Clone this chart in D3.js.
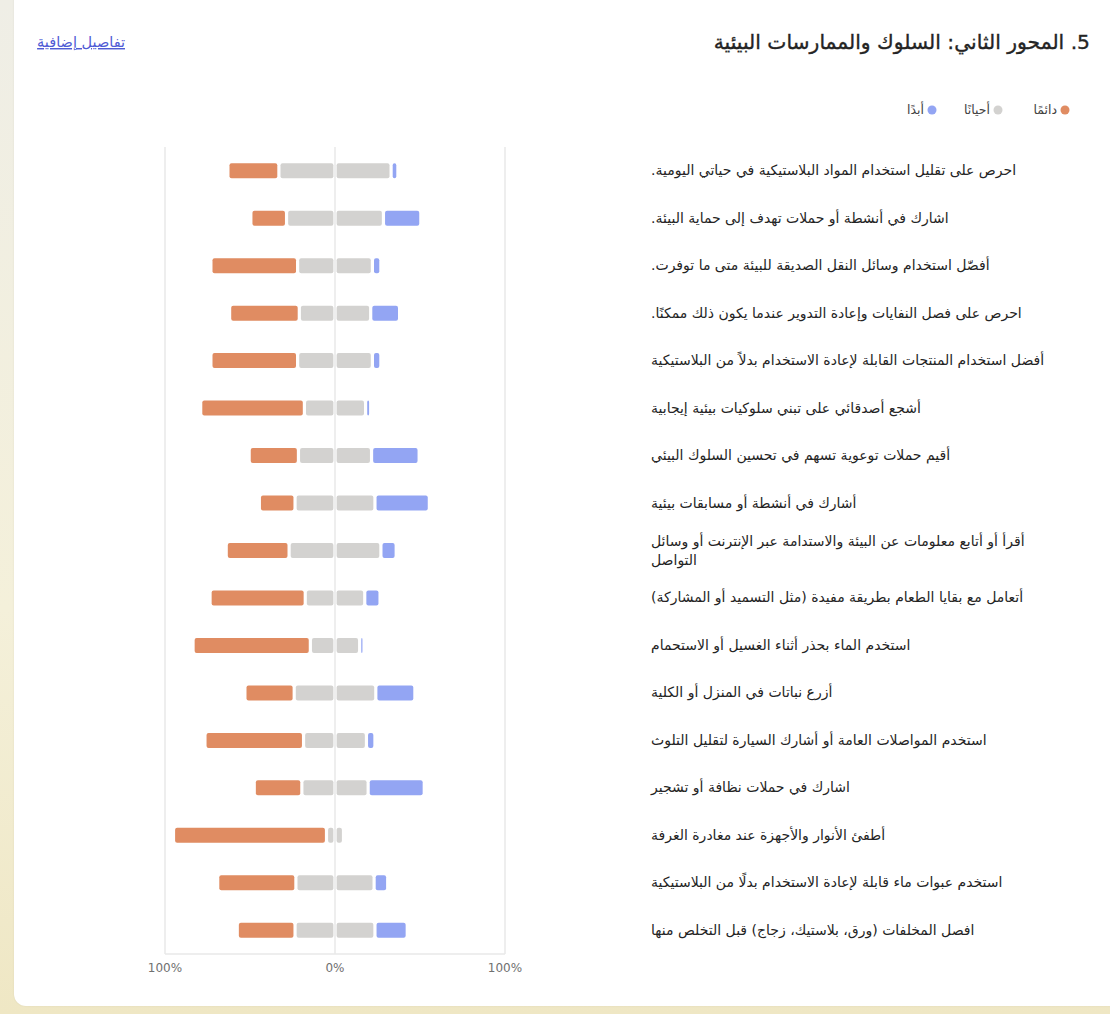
<!DOCTYPE html>
<html lang="ar">
<head>
<meta charset="utf-8">
<script src="https://cdn.jsdelivr.net/npm/d3@7"></script>
<style>
  html, body { margin: 0; padding: 0; }
  body {
    width: 1110px; height: 1014px; overflow: hidden; position: relative;
    background: linear-gradient(180deg, #efeee6 0%, #f4f0da 60%, #efe7c4 100%);
    font-family: "Segoe UI", Tahoma, "DejaVu Sans", sans-serif;
  }
  #card {
    position: absolute; left: 14px; top: -20px; width: 1120px; height: 1026px;
    background: #fff; border-radius: 12px;
    box-shadow: 0 0 2px rgba(0,0,0,0.08);
  }
  #my_dataviz { position: absolute; left: 0; top: 0; }
</style>
</head>
<body>
<div id="card"></div>
<div id="my_dataviz"></div>
<script>
const W = 1110, H = 1014;

// questions (top to bottom)
const questions = [
  "احرص على تقليل استخدام المواد البلاستيكية في حياتي اليومية.",
  "اشارك في أنشطة أو حملات تهدف إلى حماية البيئة.",
  "أفضّل استخدام وسائل النقل الصديقة للبيئة متى ما توفرت.",
  "احرص على فصل النفايات وإعادة التدوير عندما يكون ذلك ممكنًا.",
  "أفضل استخدام المنتجات القابلة لإعادة الاستخدام بدلاً من البلاستيكية",
  "أشجع أصدقائي على تبني سلوكيات بيئية إيجابية",
  "أقيم حملات توعوية تسهم في تحسين السلوك البيئي",
  "أشارك في أنشطة أو مسابقات بيئية",
  "أقرأ أو أتابع معلومات عن البيئة والاستدامة عبر الإنترنت أو وسائل التواصل",
  "أتعامل مع بقايا الطعام بطريقة مفيدة (مثل التسميد أو المشاركة)",
  "استخدم الماء بحذر أثناء الغسيل أو الاستحمام",
  "أزرع نباتات في المنزل أو الكلية",
  "استخدم المواصلات العامة أو أشارك السيارة لتقليل التلوث",
  "اشارك في حملات نظافة أو تشجير",
  "أطفئ الأنوار والأجهزة عند مغادرة الغرفة",
  "استخدم عبوات ماء قابلة لإعادة الاستخدام بدلًا من البلاستيكية",
  "افصل المخلفات (ورق، بلاستيك، زجاج) قبل التخلص منها"
];

// percentages per answer
const always    = [30, 21, 51, 41, 51, 61, 29, 21, 37, 56, 69, 29, 58, 28, 90, 46, 34];
const sometimes = [66, 57, 44, 42, 44, 36, 43, 47, 54, 35, 29, 48, 37, 39, 10, 46, 47];
const never     = [ 4, 22,  5, 17,  5,  3, 28, 32,  9,  9,  2, 23,  5, 33,  0,  8, 19];

const seriesNames = ["دائمًا", "أحيانًا", "أبدًا"];
const colors = ["#e08c62", "#d3d2d0", "#93a5f3"];
const tickLabels = ["100%", "0%", "100%"];

const svg = d3.select("#my_dataviz")
  .append("svg")
    .attr("width", W)
    .attr("height", H)
    .style("font-family", "'Segoe UI', Tahoma, 'DejaVu Sans', sans-serif");

// title + link
svg.append("text")
  .attr("x", 1090).attr("y", 49)
  .attr("direction", "rtl")
  .attr("text-anchor", "start")
  .attr("font-size", 20.3)
  .attr("fill", "#242424")
  .attr("stroke", "#242424")
  .attr("stroke-width", 0.35)
  .text("5. المحور الثاني: السلوك والممارسات البيئية");

svg.append("text")
  .attr("x", 125).attr("y", 47)
  .attr("direction", "rtl")
  .attr("text-anchor", "start")
  .attr("font-size", 14.5)
  .attr("fill", "#4f5bd5")
  .attr("text-decoration", "underline")
  .text("تفاصيل إضافية");

// legend
const legendX = [1065, 998, 932];
const legend = svg.append("g");
seriesNames.forEach(function(name, i) {
  legend.append("circle")
    .attr("cx", legendX[i]).attr("cy", 110).attr("r", 4.5)
    .attr("fill", colors[i]);
  legend.append("text")
    .attr("x", legendX[i] - 8).attr("y", 114)
    .attr("direction", "rtl")
    .attr("text-anchor", "start")
    .attr("font-size", 12.5)
    .attr("fill", "#424242")
    .text(name);
});

// scales
const x = d3.scaleLinear().domain([-100, 100]).range([165, 505]);
const y = d3.scaleBand()
  .domain(d3.range(questions.length))
  .range([147, 954])
  .padding(0);

// grid
const grid = svg.append("g").attr("stroke", "#e9e9e9").attr("stroke-width", 1.5);
[-100, 0, 100].forEach(function(v) {
  grid.append("line")
    .attr("x1", x(v)).attr("x2", x(v))
    .attr("y1", 147).attr("y2", 954);
});
grid.append("line")
  .attr("x1", x(-100)).attr("x2", x(100))
  .attr("y1", 954).attr("y2", 954);

svg.append("g")
  .selectAll("text")
  .data([-100, 0, 100])
  .join("text")
    .attr("x", d => x(d))
    .attr("y", 972)
    .attr("text-anchor", "middle")
    .attr("font-size", 12)
    .attr("fill", "#707070")
    .text((d, i) => tickLabels[i]);

// segments: orange left, gray split around zero, blue right
const segs = [];
questions.forEach(function(q, i) {
  const g = sometimes[i] / 2;
  segs.push({row: i, x0: -g - always[i], x1: -g, c: colors[0]});
  segs.push({row: i, x0: -g, x1: 0, c: colors[1]});
  segs.push({row: i, x0: 0, x1: g, c: colors[1]});
  segs.push({row: i, x0: g, x1: g + never[i], c: colors[2]});
});

const barH = 15, inset = 1.6;
svg.append("g")
  .selectAll("rect")
  .data(segs.filter(d => d.x1 > d.x0))
  .join("rect")
    .attr("x", d => x(d.x0) + inset)
    .attr("y", d => y(d.row) + y.bandwidth() / 2 - barH / 2)
    .attr("width", d => Math.max(1.2, x(d.x1) - x(d.x0) - 2 * inset))
    .attr("height", barH)
    .attr("rx", 2)
    .attr("fill", d => d.c);

// question labels, wrapped
const labels = svg.append("g");
const maxW = 395, lineH = 19;
questions.forEach(function(q, i) {
  const t = labels.append("text")
    .attr("direction", "rtl")
    .attr("text-anchor", "end")
    .attr("font-size", 14)
    .attr("fill", "#242424");
  const words = q.split(" ");
  const lines = [];
  let line = [];
  const probe = t.append("tspan").attr("x", 651);
  words.forEach(function(w) {
    line.push(w);
    probe.text(line.join(" "));
    if (probe.node().getComputedTextLength() > maxW && line.length > 1) {
      line.pop();
      lines.push(line.join(" "));
      line = [w];
    }
  });
  lines.push(line.join(" "));
  probe.remove();
  const cy = y(i) + y.bandwidth() / 2;
  const top = cy - (lines.length - 1) * lineH / 2 + 4.5;
  lines.forEach(function(l, k) {
    t.append("tspan")
      .attr("x", 651)
      .attr("y", top + k * lineH)
      .text(l);
  });
});
</script>
</body>
</html>
